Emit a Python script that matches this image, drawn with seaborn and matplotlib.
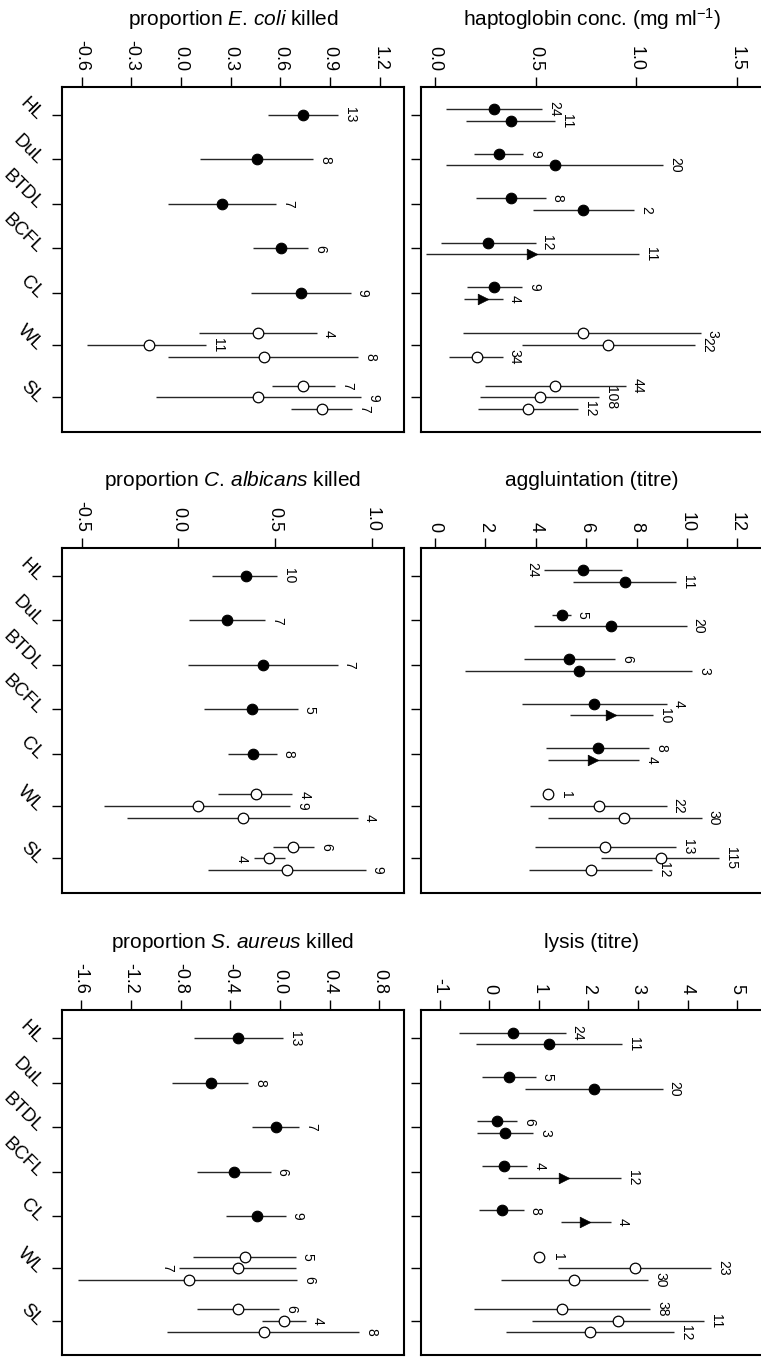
import numpy as np
import pandas as pd
import matplotlib
matplotlib.use("Agg")
import matplotlib.pyplot as plt
import matplotlib.ticker as mticker
from matplotlib.transforms import ScaledTranslation
import seaborn as sns

# ---------------- data ----------------
cats = ["HL", "DuL", "BTDL", "BCFL", "CL", "WL", "SL"]

# right-hand panels: two/three groups per category
grp_cat_R = ["HL", "HL", "DuL", "DuL", "BTDL", "BTDL", "BCFL", "BCFL", "CL", "CL",
             "WL", "WL", "WL", "SL", "SL", "SL"]
grp_kind_R = ["filled"] * 6 + ["filled", "triangle", "filled", "triangle"] + ["open"] * 6
# left-hand panels: one group per category (three for WL and SL)
grp_cat_L = ["HL", "DuL", "BTDL", "BCFL", "CL", "WL", "WL", "WL", "SL", "SL", "SL"]
grp_kind_L = ["filled"] * 5 + ["open"] * 6

hapto_mean = [0.295, 0.376, 0.318, 0.596, 0.376, 0.737, 0.262, 0.480, 0.295, 0.240,
              0.734, 0.861, 0.207, 0.596, 0.522, 0.460]
hapto_lo = [0.055, 0.152, 0.194, 0.055, 0.204, 0.488, 0.030, -0.045, 0.157, 0.146,
            0.141, 0.431, 0.068, 0.248, 0.224, 0.212]
hapto_hi = [0.533, 0.596, 0.439, 1.134, 0.550, 0.990, 0.500, 1.012, 0.434, 0.336,
            1.321, 1.292, 0.336, 0.947, 0.817, 0.712]
hapto_n = [24, 11, 9, 20, 8, 2, 12, 11, 9, 4, 3, 22, 34, 44, 108, 12]

agg_mean = [5.86, 7.54, 5.05, 6.97, 5.33, 5.73, 6.31, 6.97, 6.48, 6.28,
            4.47, 6.51, 7.51, 6.75, 8.97, 6.18]
agg_lo = [4.33, 5.49, 4.66, 3.93, 3.53, 1.19, 3.47, 5.36, 4.40, 4.50,
          np.nan, 3.77, 4.50, 3.97, 6.59, 3.73]
agg_hi = [7.43, 9.56, 5.38, 9.99, 7.14, 10.22, 9.19, 8.66, 8.51, 8.11,
          np.nan, 9.19, 10.58, 9.56, 11.28, 8.62]
agg_n = [24, 11, 5, 20, 6, 3, 4, 10, 8, 4, 1, 22, 30, 13, 115, 12]

lys_mean = [0.484, 1.21, 0.403, 2.11, 0.148, 0.323, 0.303, 1.51, 0.249, 1.93,
            1.00, 2.94, 1.71, 1.47, 2.60, 2.03]
lys_lo = [-0.605, -0.269, -0.141, 0.72, -0.242, -0.242, -0.141, 0.383, -0.208, 1.44,
          np.nan, 1.39, 0.235, -0.309, 0.868, 0.33]
lys_hi = [1.54, 2.68, 0.941, 3.50, 0.565, 0.888, 0.767, 2.66, 0.699, 2.45,
          np.nan, 4.47, 3.21, 3.25, 4.34, 3.73]
lys_n = [24, 11, 5, 20, 6, 3, 4, 12, 8, 4, 1, 23, 30, 38, 11, 12]

ecoli_mean = [0.738, 0.456, 0.249, 0.603, 0.724, 0.462, -0.193, 0.503, 0.738, 0.466, 0.849]
ecoli_lo = [0.527, 0.115, -0.076, 0.432, 0.420, 0.109, -0.565, -0.076, 0.547, -0.151, 0.662]
ecoli_hi = [0.949, 0.798, 0.573, 0.768, 1.025, 0.818, 0.151, 1.069, 0.929, 1.086, 1.033]
ecoli_n = [13, 8, 7, 6, 9, 4, 11, 8, 7, 9, 7]

calb_mean = [0.350, 0.250, 0.440, 0.379, 0.388, 0.400, 0.100, 0.333, 0.595, 0.471, 0.564]
calb_lo = [0.176, 0.055, 0.048, 0.133, 0.259, 0.207, -0.383, -0.267, 0.488, 0.391, 0.155]
calb_hi = [0.509, 0.448, 0.824, 0.617, 0.509, 0.590, 0.578, 0.928, 0.703, 0.552, 0.969]
calb_n = [10, 7, 7, 5, 8, 4, 9, 4, 6, 4, 9]

saur_mean = [-0.335, -0.555, -0.032, -0.370, -0.188, -0.282, -0.335, -0.729, -0.335, 0.032, -0.129]
saur_lo = [-0.692, -0.866, -0.228, -0.665, -0.434, -0.702, -0.810, -1.622, -0.670, -0.147, -0.906]
saur_hi = [0.027, -0.255, 0.155, -0.075, 0.048, 0.126, 0.126, 0.139, -0.005, 0.206, 0.638]
saur_n = [13, 8, 7, 6, 9, 5, 7, 6, 6, 4, 8]

hapto_ticks = [0.0, 0.5, 1.0, 1.5]
agg_ticks = [0, 2, 4, 6, 8, 10, 12]
lys_ticks = [-1, 0, 1, 2, 3, 4, 5]
ecoli_ticks = [-0.6, -0.3, 0.0, 0.3, 0.6, 0.9, 1.2]
calb_ticks = [-0.5, 0.0, 0.5, 1.0]
saur_ticks = [-1.6, -1.2, -0.8, -0.4, 0.0, 0.4, 0.8]

# ---------------- style ----------------
sns.set_theme(style="ticks")
plt.rcParams["font.family"] = ["Liberation Sans", "DejaVu Sans"]
plt.rcParams["axes.unicode_minus"] = False
plt.rcParams["mathtext.fontset"] = "custom"
plt.rcParams["mathtext.rm"] = "Liberation Sans"
plt.rcParams["mathtext.it"] = "Liberation Sans:italic"
plt.rcParams["mathtext.default"] = "regular"
for k in ["axes.edgecolor", "xtick.color", "ytick.color", "text.color", "axes.labelcolor"]:
    plt.rcParams[k] = "black"

W, H = 761, 1357
fig = plt.figure(figsize=(W / 100, H / 100), dpi=100)

# layout (category slots, with a wider gap before the three-group categories)
cat_slot = {"HL": 0, "DuL": 1, "BTDL": 2, "BCFL": 3, "CL": 4, "WL": 5.17, "SL": 6.35}
sub_step = 0.26
col_left = {"L": 61.7, "R": 420.7}
row_top = [86.7, 547.7, 1010.0]
AX_W, AX_H = 342.6, 345.0

panels = [
    dict(col="R", row=0, title="haptoglobin conc. (mg ml$^{-1}$)",
         mean=hapto_mean, lo=hapto_lo, hi=hapto_hi, n=hapto_n, ticks=hapto_ticks,
         fmt="%.1f", xlim=(-0.071, 1.631), left_lab=[]),
    dict(col="R", row=1, title="aggluintation (titre)",
         mean=agg_mean, lo=agg_lo, hi=agg_hi, n=agg_n, ticks=agg_ticks,
         fmt="%d", xlim=(-0.567, 13.03), left_lab=[0]),
    dict(col="R", row=2, title="lysis (titre)",
         mean=lys_mean, lo=lys_lo, hi=lys_hi, n=lys_n, ticks=lys_ticks,
         fmt="%d", xlim=(-1.385, 5.527), left_lab=[]),
    dict(col="L", row=0, title=r"proportion $\mathit{E}$. $\mathit{coli}$ killed",
         mean=ecoli_mean, lo=ecoli_lo, hi=ecoli_hi, n=ecoli_n, ticks=ecoli_ticks,
         fmt="%.1f", xlim=(-0.72, 1.347), left_lab=[]),
    dict(col="L", row=1, title=r"proportion $\mathit{C}$. $\mathit{albicans}$ killed",
         mean=calb_mean, lo=calb_lo, hi=calb_hi, n=calb_n, ticks=calb_ticks,
         fmt="%.1f", xlim=(-0.603, 1.169), left_lab=[9]),
    dict(col="L", row=2, title=r"proportion $\mathit{S}$. $\mathit{aureus}$ killed",
         mean=saur_mean, lo=saur_lo, hi=saur_hi, n=saur_n, ticks=saur_ticks,
         fmt="%.1f", xlim=(-1.756, 1.0), left_lab=[6]),
]

kind_style = {
    "filled": dict(marker="o", color="black", edgecolor="black", s=58, linewidth=0.8),
    "open": dict(marker="o", color="white", edgecolor="black", s=58, linewidth=0.9),
    "triangle": dict(marker=">", color="black", edgecolor="black", s=58, linewidth=0.5),
}
bar_color = "#262626"

for p in panels:
    left = col_left[p["col"]]
    top = row_top[p["row"]]
    ax = fig.add_axes([left / W, 1 - (top + AX_H) / H, AX_W / W, AX_H / H])

    gcat = grp_cat_R if p["col"] == "R" else grp_cat_L
    gkind = grp_kind_R if p["col"] == "R" else grp_kind_L
    df = pd.DataFrame({"cat": gcat, "kind": gkind, "mean": p["mean"],
                       "lo": p["lo"], "hi": p["hi"], "n": p["n"]})
    df["idx"] = np.arange(len(df))
    df["k"] = df.groupby("cat").cumcount()
    df["m"] = df.groupby("cat")["cat"].transform("size")
    df["y"] = df["cat"].map(cat_slot) + (df["k"] - (df["m"] - 1) / 2) * sub_step

    # error bars
    eb = df.dropna(subset=["lo", "hi"])
    ax.hlines(eb["y"], eb["lo"], eb["hi"], color=bar_color, lw=1.0, zorder=2)

    # markers
    for kind, st in kind_style.items():
        sub = df[df["kind"] == kind]
        if len(sub):
            sns.scatterplot(data=sub, x="mean", y="y", ax=ax, legend=False, zorder=3,
                            clip_on=False, **st)

    # sample size labels
    for _, r in df.iterrows():
        if np.isnan(r["hi"]):
            ax.annotate(str(int(r["n"])), xy=(r["mean"], r["y"]), xytext=(8.5, 0),
                        textcoords="offset points", rotation=-90, ha="left", va="center",
                        fontsize=10)
        elif r["idx"] in p["left_lab"]:
            ax.annotate(str(int(r["n"])), xy=(r["lo"], r["y"]), xytext=(-3.5, 0),
                        textcoords="offset points", rotation=-90, ha="right", va="center",
                        fontsize=10)
        else:
            ax.annotate(str(int(r["n"])), xy=(r["hi"], r["y"]), xytext=(3.5, 0),
                        textcoords="offset points", rotation=-90, ha="left", va="center",
                        fontsize=10)

    ax.set_xlim(*p["xlim"])
    ax.set_ylim(7.12, -0.636)
    ax.set_xlabel("")
    ax.set_ylabel("")

    # value axis on top
    ax.xaxis.tick_top()
    ax.set_xticks(p["ticks"])
    ax.xaxis.set_major_formatter(mticker.FormatStrFormatter(p["fmt"]))
    ax.tick_params(axis="x", which="major", top=True, bottom=False, labeltop=True,
                   labelbottom=False, direction="out", length=7.5, width=1.0, pad=4,
                   labelsize=13, labelrotation=-90)
    ax.tick_params(axis="x", which="minor", top=False, bottom=False)

    # category axis
    ax.set_yticks([cat_slot[c] for c in cats])
    ax.tick_params(axis="y", left=True, direction="out", length=7.5, width=1.0, pad=4)
    if p["col"] == "L":
        ax.set_yticklabels(cats, rotation=-45, ha="right", va="bottom", fontsize=13.5)
        shift = ScaledTranslation(0, -8.5 / 100, fig.dpi_scale_trans)
        for lab in ax.get_yticklabels():
            lab.set_transform(lab.get_transform() + shift)
    else:
        ax.tick_params(axis="y", labelleft=False)

    for s in ax.spines.values():
        s.set_visible(True)
        s.set_linewidth(1.5)
        s.set_color("black")

    ax.annotate(p["title"], xy=(0.5, 1), xycoords="axes fraction", xytext=(0, 48.5),
                textcoords="offset points", ha="center", va="center", fontsize=15)

fig.savefig("out.png", dpi=100)
